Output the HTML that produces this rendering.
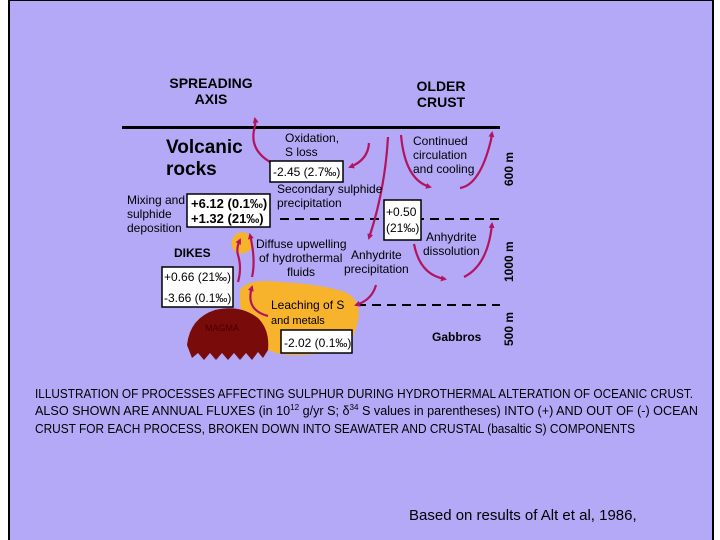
<!DOCTYPE html>
<html><head><meta charset="utf-8"><style>
html,body{margin:0;padding:0;background:#fff;}
svg{display:block;}
text{font-family:"Liberation Sans",sans-serif;fill:#000;}
.b{font-weight:bold;}
</style></head><body>
<svg width="720" height="540" viewBox="0 0 720 540" xmlns="http://www.w3.org/2000/svg">
<defs>
<marker id="ah" markerWidth="6" markerHeight="6" refX="4" refY="3" orient="auto" markerUnits="userSpaceOnUse"><path d="M0,0 L6,3 L0,6 z" fill="#b3135f"/></marker>
</defs>
<rect x="0" y="0" width="720" height="540" fill="#fff"/>
<rect x="9" y="0" width="704" height="540" fill="#b3a9f6"/>
<rect x="8" y="0" width="2" height="540" fill="#000"/>
<rect x="712" y="0" width="2" height="540" fill="#000"/>
<rect x="8" y="0" width="706" height="1" fill="#000"/>

<text x="211" y="88" class="b" font-size="14" text-anchor="middle">SPREADING</text>
<text x="211" y="104" class="b" font-size="14" text-anchor="middle">AXIS</text>
<text x="441" y="91" class="b" font-size="14" text-anchor="middle">OLDER</text>
<text x="441" y="107" class="b" font-size="14" text-anchor="middle">CRUST</text>

<rect x="122" y="126" width="378" height="3" fill="#000"/>
<path d="M280,219 H500" stroke="#000" stroke-width="2" stroke-dasharray="9,6"/>
<path d="M357,305 H500" stroke="#000" stroke-width="2" stroke-dasharray="9,6"/>

<text transform="translate(513,186) rotate(-90)" class="b" font-size="12">600 m</text>
<text transform="translate(513,282) rotate(-90)" class="b" font-size="12">1000 m</text>
<text transform="translate(513,346) rotate(-90)" class="b" font-size="12">500 m</text>

<!-- yellow -->
<path d="M232,240 Q236,230 246,233 Q256,238 250,250 Q242,256 236,252 Q230,248 232,240z" fill="#f7b32b"/>
<path d="M240,290 Q248,278 280,282 Q320,284 345,292 Q362,300 358,320 Q354,340 345,348 Q320,356 290,355 Q266,354 258,340 Q245,322 240,305z" fill="#f7b32b"/>
<!-- magma -->
<path d="M187,345 Q190,318 215,310 Q240,304 258,318 Q270,330 268,350 L263,358 L258,352 L252,360 L246,353 L240,360 L234,353 L228,360 L222,353 L216,360 L210,353 L204,360 L198,353 L192,358z" fill="#7a0b0b"/>
<text x="205" y="331" font-size="9" fill="#3a0000" style="fill:#400">MAGMA</text>

<!-- arrows -->
<g fill="none" stroke="#b3135f" stroke-width="2.2" marker-end="url(#ah)">
<path d="M270,162 Q250,150 254,130 Q256,124 255,119"/>
<path d="M369,143 Q368,160 350,167"/>
<path d="M388,137 Q385,190 369,238"/>
<path d="M401,135 Q405,180 430,187"/>
<path d="M460,188 Q480,185 491,140 L492,133"/>
<path d="M414,244 Q420,275 445,279"/>
<path d="M464,277 Q488,265 492,224"/>
<path d="M376,285 Q372,300 356,305"/>
<path d="M268,316 Q245,310 252,287"/>
<path d="M238,282 Q242,268 238,255 Q236,248 240,240"/>
<path d="M252,277 Q256,260 250,235"/>
</g>

<text x="166" y="153" class="b" font-size="19">Volcanic</text>
<text x="166" y="175" class="b" font-size="19">rocks</text>
<text x="285" y="142" font-size="12">Oxidation,</text>
<text x="285" y="156" font-size="12">S loss</text>
<text x="413" y="145" font-size="12">Continued</text>
<text x="413" y="159" font-size="12">circulation</text>
<text x="413" y="173" font-size="12">and cooling</text>
<text x="277" y="193" font-size="12">Secondary sulphide</text>
<text x="277" y="207" font-size="12">precipitation</text>
<text x="127" y="204" font-size="12">Mixing and</text>
<text x="127" y="218" font-size="12">sulphide</text>
<text x="127" y="232" font-size="12">deposition</text>
<text x="174" y="257" class="b" font-size="12">DIKES</text>
<text x="256" y="248" font-size="12">Diffuse upwelling</text>
<text x="259" y="262" font-size="12">of hydrothermal</text>
<text x="287" y="276" font-size="12">fluids</text>
<text x="351" y="259" font-size="12">Anhydrite</text>
<text x="344" y="273" font-size="12">precipitation</text>
<text x="426" y="241" font-size="12">Anhydrite</text>
<text x="423" y="255" font-size="12">dissolution</text>
<text x="271" y="309" font-size="12">Leaching of S</text>
<text x="271" y="324" font-size="11">and metals</text>
<text x="432" y="341" class="b" font-size="12">Gabbros</text>

<g fill="#fff" stroke="#000" stroke-width="1.5">
<rect x="270" y="161" width="73" height="21"/>
<rect x="187" y="194" width="83" height="33"/>
<rect x="384" y="200" width="37" height="40"/>
<rect x="162" y="267" width="71" height="40"/>
<rect x="281" y="330" width="71" height="23"/>
</g>
<text x="273" y="176" font-size="12">-2.45 (2.7‰)</text>
<text x="191" y="208" class="b" font-size="13">+6.12 (0.1‰)</text>
<text x="191" y="223" class="b" font-size="13">+1.32 (21‰)</text>
<text x="386" y="216" font-size="12">+0.50</text>
<text x="386" y="232" font-size="12">(21‰)</text>
<text x="164" y="281" font-size="12">+0.66 (21‰)</text>
<text x="164" y="302" font-size="12">-3.66 (0.1‰)</text>
<text x="284" y="347" font-size="12">-2.02 (0.1‰)</text>

<text x="35" y="398" font-size="12.5" textLength="658" lengthAdjust="spacingAndGlyphs">ILLUSTRATION OF PROCESSES AFFECTING SULPHUR DURING HYDROTHERMAL ALTERATION OF OCEANIC CRUST.</text>
<text x="35" y="415" font-size="12.5" textLength="663" lengthAdjust="spacingAndGlyphs">ALSO SHOWN ARE ANNUAL FLUXES (in 10<tspan font-size="8" dy="-5">12</tspan><tspan dy="5"> g/yr S; δ</tspan><tspan font-size="8" dy="-5">34</tspan><tspan dy="5"> S values in parentheses) INTO (+) AND OUT OF (-) OCEAN</tspan></text>
<text x="35" y="433" font-size="12.5" textLength="600" lengthAdjust="spacingAndGlyphs">CRUST FOR EACH PROCESS, BROKEN DOWN INTO SEAWATER AND CRUSTAL (basaltic S) COMPONENTS</text>

<text x="409" y="520" font-size="15">Based on results of Alt et al, 1986,</text>
</svg>
</body></html>
